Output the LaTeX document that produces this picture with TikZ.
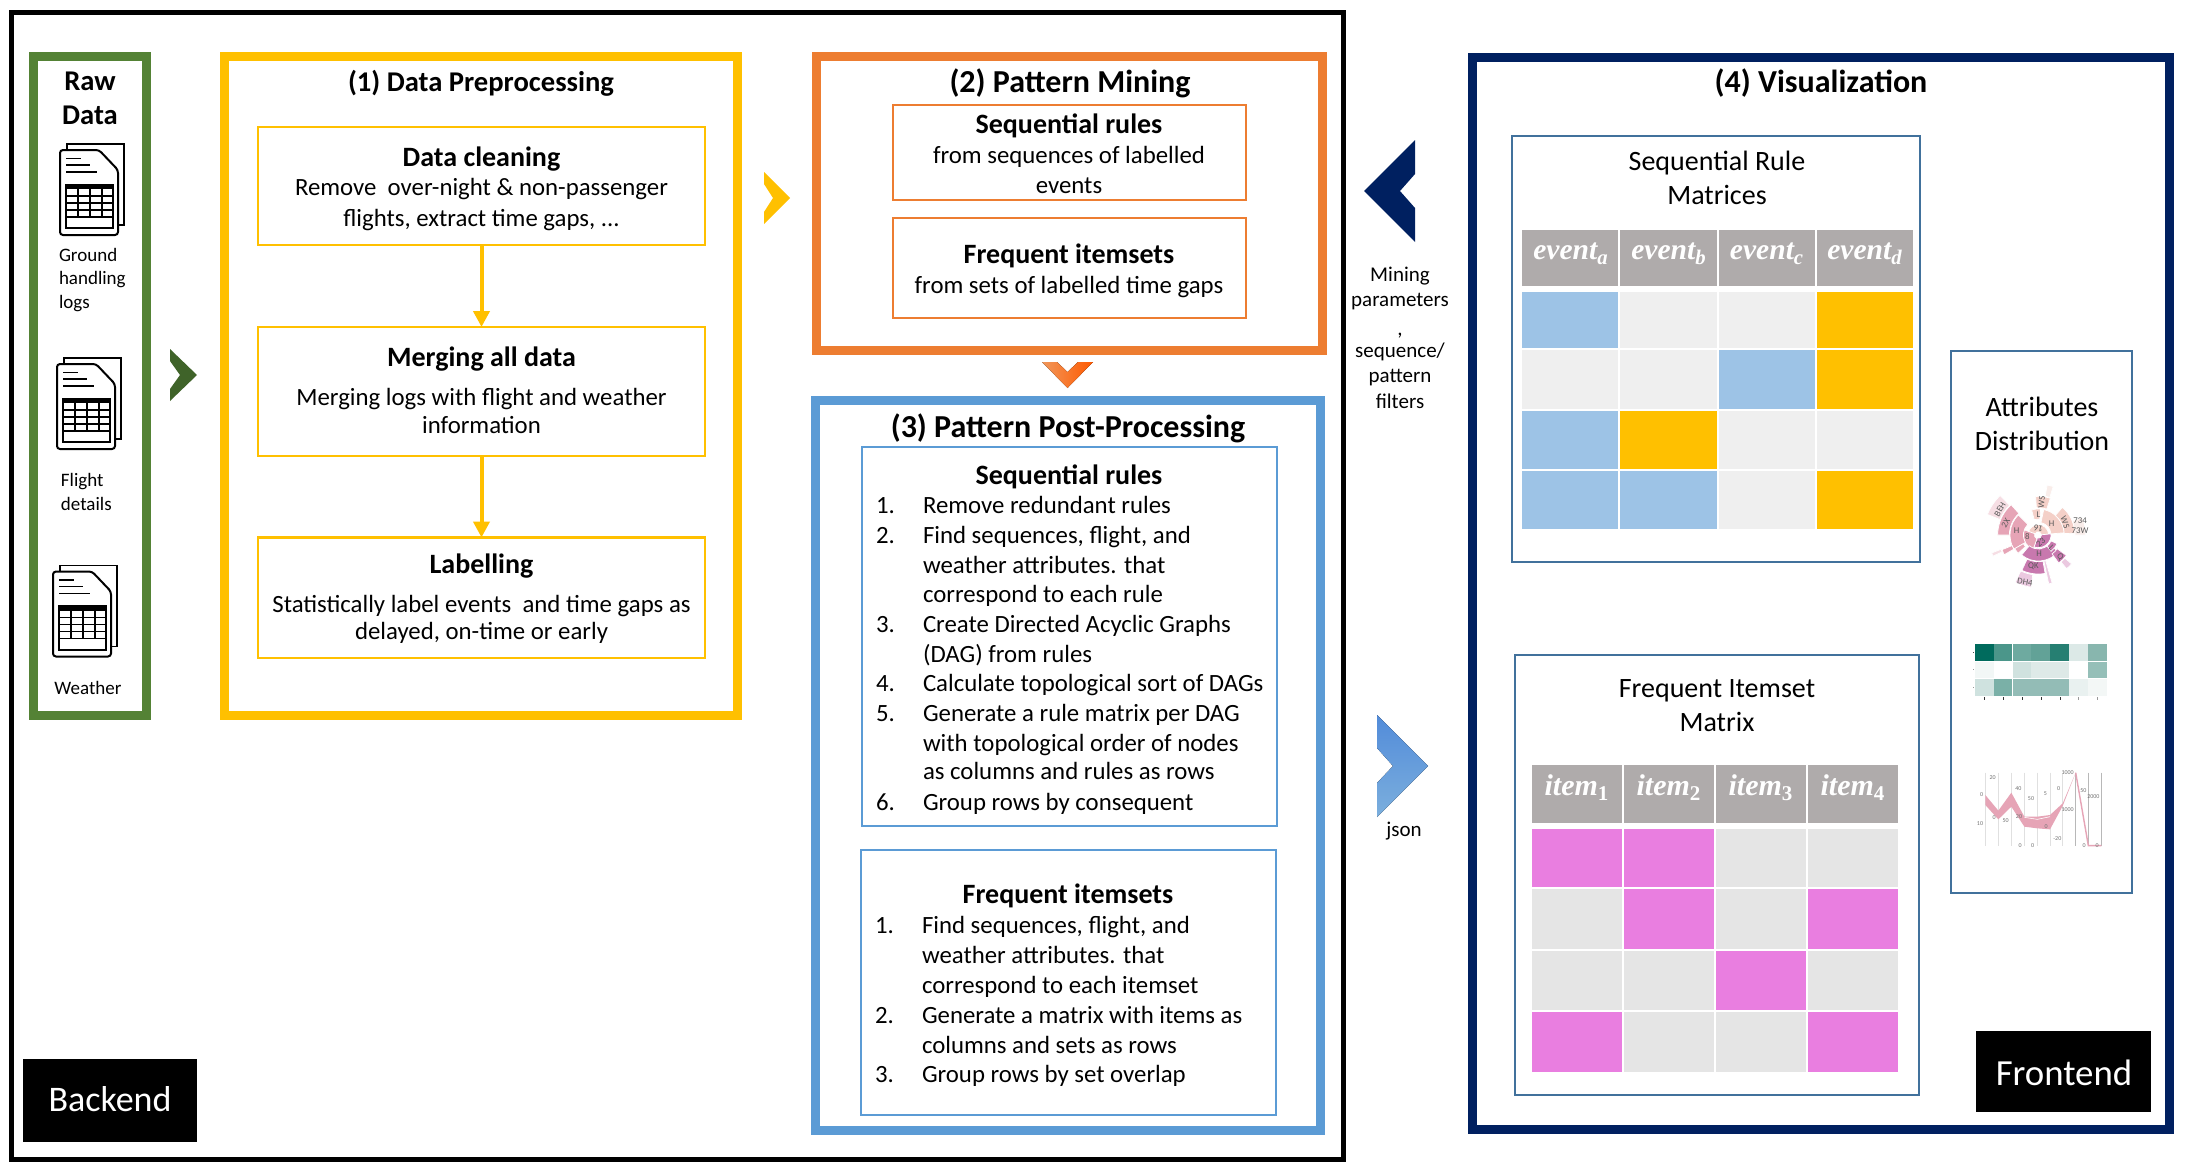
\documentclass[tikz,border=0pt]{standalone}
\usepackage{fontspec}
\setmainfont{Carlito}
\newfontfamily\mathserif{Liberation Serif}
\usetikzlibrary{arrows.meta}
\definecolor{cgreen}{HTML}{548235}
\definecolor{cgreend}{HTML}{3F6329}
\definecolor{cyell}{HTML}{FFC000}
\definecolor{corange}{HTML}{ED7D31}
\definecolor{cblue}{HTML}{5B9BD5}
\definecolor{cnavy}{HTML}{002060}
\definecolor{csteel}{HTML}{41719C}
\definecolor{chead}{HTML}{AFABAB}
\definecolor{cb}{HTML}{9DC3E6}
\definecolor{cy}{HTML}{FFC000}
\definecolor{cg}{HTML}{EFEFEF}
\definecolor{cp}{HTML}{E97EE0}
\definecolor{cq}{HTML}{E5E5E5}
\newcommand\fs[1]{\fontsize{#1}{#1}\selectfont}
\newcounter{autoname}
\newcommand\Bx[6]{\node[#2,outer sep=0pt,inner sep=0pt,minimum width={(#5-#3)*0.5pt},minimum height={(#6-#4)*0.5pt}] (#1) at ({(#3+#5)/2},{(#4+#6)/2}) {};}
\newcommand\T[4][]{\stepcounter{autoname}\node[lab,#1] (t\theautoname) at (#2,#3) {#4};}
\newcommand\Row[7]{%
 \Bx{#1a}{cell,fill=#4}{\ca}{#2}{\cb}{#3}\Bx{#1b}{cell,fill=#5}{\cc}{#2}{\cd}{#3}%
 \Bx{#1c}{cell,fill=#6}{\ce}{#2}{\cf}{#3}\Bx{#1d}{cell,fill=#7}{\cgg}{#2}{\ch}{#3}}
\newcommand\Doc[2]{\begin{scope}[shift={(#1,#2)}]
 \draw[line width=.9pt] (7,6)--(7,0)--(64,0)--(64,81)--(58,81);
 \draw[line width=1pt,fill=white,rounded corners=1.5pt] (0,6)--(39,6)--(58,26)--(58,91)--(0,91)--cycle;
 \draw[line width=.9pt] (6,14.5)--(21,14.5) (6,21)--(30,21) (6,28)--(37,28);
 \draw[line width=1pt] (6,40.5) rectangle (53,84);
 \fill (6,40.5) rectangle (53,45);
 \draw[line width=.7pt] (6,52)--(53,52) (6,59)--(53,59) (6,66)--(53,66) (6,73)--(53,73);
 \draw[line width=.7pt] (18,40.5)--(18,73) (30,40.5)--(30,73) (42,40.5)--(42,73);
\end{scope}}
\newcommand\Chev[7]{\fill[#1] (#2,#3)--(#4,{(#3+#5)/2})--(#2,#5)--(#2,{(#3+#5)/2+#7})--(#6,{(#3+#5)/2})--(#2,{(#3+#5)/2-#7})--cycle;}
\newcommand\Sect[5]{\fill[#5,draw=white,line width=.35pt] (#3:#1*.16667pt)--(#3:#2*.16667pt) arc[start angle=#3,end angle=#4,radius=#2*.16667pt]--(#4:#1*.16667pt) arc[start angle=#4,end angle=#3,radius=#1*.16667pt]--cycle;}
\newcommand\Sb[4][0]{\stepcounter{autoname}\node[sblab,rotate=#1] (t\theautoname) at (#2,#3) {#4};}
\newcommand\Pl[3]{\stepcounter{autoname}\node[pclab] (t\theautoname) at (#1,#2) {#3};}
\newcommand\Ev[1]{{\mathserif\fs{14.8}\bfseries\itshape event\textsubscript{#1}}}
\newcommand\It[1]{{\mathserif\fs{15}\bfseries\itshape item\textsubscript{\upshape #1}}}
\tikzset{
 lab/.style={inner sep=0pt,outer sep=0pt,anchor=mid,align=center,text=black,font=\fs{12.4}},
 left/.style={anchor=mid west},
 ttl/.style={font=\fs{14.3}\bfseries},
 ttb/.style={font=\fs{16}\bfseries},
 sub/.style={font=\fs{14}\bfseries},
 small/.style={font=\fs{9.5}},
 para/.style={font=\fs{10.5}},
 mat/.style={font=\fs{14}},
 tag/.style={fill=black},
 thick1/.style={draw=#1,line width=4.5pt},
 thin1/.style={draw=#1,line width=1.2pt},
 cell/.style={draw=none},
 flow/.style={draw=cyell,line width=2pt,-{Triangle[width=8pt,length=8pt]}},
 sblab/.style={inner sep=0pt,text=black!65,font=\fs{4.4}},
 pclab/.style={inner sep=0pt,text=black!55,font=\fs{3}},
}
\begin{document}
\begin{tikzpicture}[x=0.5pt,y=-0.5pt]
\useasboundingbox (0,0) rectangle (2191,1173);
\fill[white] (0,0) rectangle (2191,1173);
% outer frame
\Bx{backendframe}{draw=black,line width=2.5pt}{11.5}{12.5}{1343.5}{1159.5}
% raw data
\Bx{raw}{thick1=cgreen}{33.5}{56.5}{146.5}{715}
\T[ttl]{90}{86}{Raw}
\T[ttl]{90}{120}{Data}
\Doc{60}{144}
\T[small,left]{59}{257}{Ground}
\T[small,left]{59}{280}{handling}
\T[small,left]{59}{304}{logs}
\Doc{57}{358}
\T[small,left]{61}{482}{Flight}
\T[small,left]{61}{506}{details}
\Doc{53}{565.5}
\T[small]{88}{690}{Weather}
\Chev{cgreend}{170}{349}{197}{401}{180}{14}
% preprocessing
\Bx{prep}{thick1=cyell}{224.5}{56.5}{737}{715.5}
\T[ttl]{481}{87}{(1) Data Preprocessing}
\Bx{clean}{thin1=cyell}{258}{127}{705}{245}
\T[sub]{481.5}{162}{Data cleaning}
\T{481.5}{191}{Remove\ \ over-night \& non-passenger}
\T{481.5}{222}{flights, extract time gaps, ...}
\Bx{merge}{thin1=cyell}{258}{327}{705}{456}
\T[sub]{481.5}{362}{Merging all data}
\T{481.5}{401}{Merging logs with flight and weather}
\T{481.5}{429}{information}
\Bx{label}{thin1=cyell}{258}{537.5}{705}{658}
\T[sub]{481.5}{569}{Labelling}
\T{481.5}{608}{Statistically label events\ \ and time gaps as}
\T{481.5}{635}{delayed, on-time or early}
\draw[flow] (clean.south) -- (merge.north);
\draw[flow] (merge.south) -- (label.north);
\Chev{cyell}{764}{172}{790}{224}{773}{14}
% mining
\Bx{mining}{thick1=corange}{816.5}{56.5}{1322.5}{350.5}
\T[ttb]{1070}{88}{(2) Pattern Mining}
\Bx{mseq}{thin1=corange}{893}{105}{1246}{200}
\T[sub]{1069}{129}{Sequential rules}
\T{1069}{159}{from sequences of labelled}
\T{1069}{189}{events}
\Bx{mfreq}{thin1=corange}{893}{218}{1246}{318}
\T[sub]{1069}{259}{Frequent itemsets}
\T{1069}{289}{from sets of labelled time gaps}
\fill[left color=corange!80!white,right color=orange!70!red] (1042,362)--(1067.5,388)--(1093,362)--(1078,362)--(1067.5,372)--(1057,362)--cycle;
% post-processing
\Bx{post}{thick1=cblue}{815.5}{400.5}{1320.5}{1130}
\T[ttb]{1068}{433}{(3) Pattern Post-Processing}
\Bx{pseq}{thin1=cblue}{862}{447}{1277}{826}
\T[sub]{1069}{480}{Sequential rules}
\foreach \n/\y/\s in {1./509/Remove redundant rules,2./539/{Find sequences, flight, and},/569/weather attributes. that,/598/correspond to each rule,3./628/Create Directed Acyclic Graphs,/658/(DAG) from rules,4./687/Calculate topological sort of DAGs,5./717/Generate a rule matrix per DAG,/747/with topological order of nodes,/775/as columns and rules as rows,6./806/Group rows by consequent}{
 \T[left]{876}{\y}{\n}
 \T[left]{923}{\y}{\s}
}
\Bx{pfreq}{thin1=cblue}{861}{850}{1276}{1115}
\T[sub]{1068}{899}{Frequent itemsets}
\foreach \n/\y/\s in {1./929/{Find sequences, flight, and},/959/weather attributes. that,/989/correspond to each itemset,2./1019/Generate a matrix with items as,/1049/columns and sets as rows,3./1078/Group rows by set overlap}{
 \T[left]{875}{\y}{\n}
 \T[left]{922}{\y}{\s}
}
% backend
\Bx{backend}{tag}{23}{1058.5}{197}{1141.5}
\T[font=\fs{18},text=white]{110}{1107}{Backend}
% arrows between
\Chev{cnavy}{1415}{140}{1364}{242}{1400}{17}
\T[para]{1400}{277}{Mining}
\T[para]{1400}{302}{parameters}
\T[para]{1400}{331}{,}
\T[para]{1400}{353}{sequence/}
\T[para]{1400}{378}{pattern}
\T[para]{1400}{404}{filters}
\fill[top color=cblue!90!blue,bottom color=cblue!80!white] (1377,715)--(1428,766)--(1377,817)--(1377,783)--(1393,766)--(1377,748)--cycle;
\T[para]{1404}{832}{json}
% visualization
\Bx{vis}{thick1=cnavy}{1472.5}{57}{2169.5}{1129}
\T[ttb]{1821}{88}{(4) Visualization}
\Bx{smat}{thin1=csteel}{1512}{136}{1920}{562}
\T[mat]{1717}{166}{Sequential Rule}
\T[mat]{1717}{200}{Matrices}
\def\ca{1522}\def\cb{1618}\def\cc{1620}\def\cd{1717}\def\ce{1718.5}\def\cf{1814.5}\def\cgg{1816.5}\def\ch{1912.5}
\Row{shead}{230}{286}{chead}{chead}{chead}{chead}
\Row{sra}{292}{348}{cb}{cg}{cg}{cy}
\Row{srb}{350}{409}{cg}{cg}{cb}{cy}
\Row{src}{411}{469}{cb}{cy}{cg}{cg}
\Row{srd}{471}{529}{cb}{cb}{cg}{cy}
\T[text=white]{1571}{255}{\Ev{a}}
\T[text=white]{1669}{255}{\Ev{b}}
\T[text=white]{1767}{255}{\Ev{c}}
\T[text=white]{1865}{255}{\Ev{d}}
\Bx{fmat}{thin1=csteel}{1515}{655}{1919}{1095}
\T[mat]{1717}{693}{Frequent Itemset}
\T[mat]{1717}{727}{Matrix}
\def\ca{1532}\def\cb{1622}\def\cc{1624}\def\cd{1714}\def\ce{1716}\def\cf{1806}\def\cgg{1808}\def\ch{1898}
\Row{fhead}{765}{823}{chead}{chead}{chead}{chead}
\Row{fra}{829}{887}{cp}{cp}{cq}{cq}
\Row{frb}{889}{949}{cq}{cp}{cq}{cp}
\Row{frc}{951}{1010}{cq}{cq}{cp}{cq}
\Row{frd}{1012}{1072}{cp}{cq}{cq}{cp}
\T[text=white]{1577}{791}{\It{1}}
\T[text=white]{1669}{791}{\It{2}}
\T[text=white]{1761}{791}{\It{3}}
\T[text=white]{1853}{791}{\It{4}}
\Bx{attr}{thin1=csteel}{1951}{351}{2132}{893}
\T[font=\fs{14}]{2042}{412}{Attributes}
\T[font=\fs{14}]{2042}{446}{Distribution}
% sunburst
\begin{scope}[shift={(1970,470)},x=.16667pt,y=-.16667pt]
\begin{scope}[shift={(205,195)}]
\definecolor{sa}{HTML}{F4D0C8}\definecolor{sb}{HTML}{C878AE}\definecolor{sc}{HTML}{E6A4B6}
\definecolor{sd}{HTML}{F6DEE4}\definecolor{se}{HTML}{EBC9E0}\definecolor{sf}{HTML}{F9EDEA}
\Sect{10}{31}{5}{160}{sa}
\Sect{10}{38}{-110}{5}{sb}
\Sect{12}{45}{160}{250}{sc}
\Sect{38}{78}{5}{78}{sa}
\Sect{48}{78}{85}{105}{sa}
\Sect{78}{110}{3}{49}{sa}
\Sect{82}{116}{72}{94}{sa}
\Sect{118}{152}{73}{80}{sf}
\Sect{110}{142}{0}{22}{sf}
\Sect{45}{85}{135}{210}{sc}
\Sect{87}{122}{132}{180}{sc}
\Sect{124}{165}{134}{158}{sd}
\Sect{42}{78}{-130}{-40}{sb}
\Sect{80}{117}{-115}{-80}{sb}
\Sect{120}{158}{-116}{-98}{se}
\Sect{80}{150}{-78}{-74}{se}
\Sect{42}{62}{-52}{-25}{sb}
\Sect{70}{104}{-54}{-36}{sb}
\Sect{106}{132}{-50}{-41}{se}
\Sect{52}{82}{-150}{-138}{sc}
\Sect{85}{118}{-158}{-150}{sc}
\Sect{120}{150}{-159}{-155}{sd}
\end{scope}
\Sb[60]{90}{118}{BEH}
\Sb[60]{107}{158}{2X}
\Sb{140}{182}{H}
\Sb{172}{200}{8}
\Sb[170]{205}{175}{16}
\Sb[40]{212}{218}{23}
\Sb{205}{133}{L}
\Sb[85]{215}{97}{WS}
\Sb{245}{160}{H}
\Sb[-70]{285}{157}{WS}
\Sb{330}{152}{734}
\Sb{330}{182}{73W}
\Sb[-45]{245}{232}{L}
\Sb[-45]{270}{260}{Q}
\Sb{207}{250}{H}
\Sb{190}{290}{QK}
\Sb[-10]{165}{335}{DH4}
\end{scope}
% heatmap
\begin{scope}[shift={(1970,630)},x=.16667pt,y=-.16667pt]
\foreach \x/\a/\b/\c in {15/006B5D/F2F7F6/CFE2DF,71/4B968A/FFFFFF/7AB0A7,128/6EAAA0/D0E2DF/93BCB6,184/62A297/DEEAE8/93BCB6,241/267F72/DDE9E7/93BCB6,298/DCE9E7/FFFFFF/E9F1F0,355/88B6AE/95BFB8/F3F7F6}{
 \definecolor{h1}{HTML}{\a}\definecolor{h2}{HTML}{\b}\definecolor{h3}{HTML}{\c}
 \fill[h1] (\x,42) rectangle ++(56,51);
 \fill[h2] (\x,95) rectangle ++(56,50);
 \fill[h3] (\x,147) rectangle ++(56,50);
}
\foreach \x in {43,100,157,214,271}{\draw[black!80,line width=.5pt] (\x,201)--(\x,210);}
\foreach \x in {325,382}{\draw[black!40,line width=.5pt] (\x,201)--(\x,210);}
\draw[black!70,line width=.4pt] (9,67)--(13,67);
\draw[black!40,line width=.4pt] (9,118)--(13,118) (9,172)--(13,172);
\end{scope}
% parallel coordinates
\begin{scope}[shift={(1970,760)},x=.16667pt,y=-.16667pt]
\foreach \x in {46,85,124,163,202,240,278}{\draw[black!12,line width=.5pt] (\x,38)--(\x,257);}
\foreach \x in {317,355,394}{\draw[black!28,line width=.5pt] (\x,38)--(\x,257);}
\definecolor{pk}{HTML}{E6A4B6}
\fill[pk] (46,105)--(85,152)--(124,98)--(163,170)--(202,170)--(240,165)--(278,130)--(317,38)--(278,138)--(240,208)--(202,205)--(163,200)--(124,140)--(85,178)--(46,135)--cycle;
\draw[pk,line width=.7pt] (317,38)--(355,257)--(394,257);
\draw[white,line width=.3pt] (163,172)--(202,178)--(240,170);
\Pl{68}{53}{20}\Pl{35}{105}{0}\Pl{30}{192}{10}\Pl{72}{172}{0}\Pl{107}{182}{50}
\Pl{145}{85}{40}\Pl{147}{170}{20}\Pl{150}{257}{0}\Pl{183}{115}{50}\Pl{188}{257}{0}
\Pl{226}{100}{5}\Pl{228}{200}{0}\Pl{262}{237}{-20}\Pl{293}{38}{1000}\Pl{266}{85}{0}
\Pl{293}{150}{1000}\Pl{340}{92}{50}\Pl{342}{257}{0}\Pl{370}{110}{2000}\Pl{381}{257}{0}
\end{scope}
% frontend
\Bx{frontend}{tag}{1976}{1031}{2151}{1112}
\T[font=\fs{18.4},text=white]{2064}{1081}{Frontend}
\end{tikzpicture}
\end{document}
